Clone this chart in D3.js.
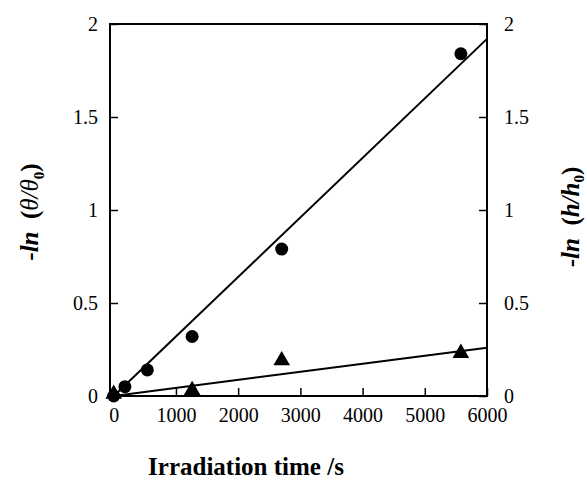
<!DOCTYPE html>
<html>
<head>
<meta charset="utf-8">
<script src="https://cdn.jsdelivr.net/npm/d3@7"></script>
<style>
  body { margin: 0; background: #fff; }
  svg text { font-family: "Liberation Serif", "Times New Roman", serif; fill: #000; }
</style>
</head>
<body>
<div id="graph"></div>
<script>
// data
var timeCircles = [0, 180, 540, 1260, 2700, 5580];
var thetaValues = [0, 0.05, 0.14, 0.32, 0.79, 1.84];
var timeTriangles = [0, 1260, 2700, 5580];
var heightValues = [0, 0.02, 0.18, 0.22];
var fitTime = [0, 6000];
var fitTheta = [0, 1.92];
var fitHeight = [0, 0.26];
var xTicks = [0, 1000, 2000, 3000, 4000, 5000, 6000];
var yTicks = [0, 0.5, 1, 1.5, 2];

var W = 587, H = 491;
var plotL = 110, plotR = 487, plotT = 24, plotB = 396;

var svg = d3.select("#graph").append("svg")
  .attr("width", W)
  .attr("height", H);

var x = d3.scaleLinear().domain([-60, 6000]).range([plotL, plotR]);
var y = d3.scaleLinear().domain([0, 2]).range([plotB, plotT]);

// frame
svg.append("rect")
  .attr("x", plotL).attr("y", plotT)
  .attr("width", plotR - plotL).attr("height", plotB - plotT)
  .attr("fill", "none").attr("stroke", "#000").attr("stroke-width", 2);

// axes, ticks point inward
var gx = svg.append("g")
  .attr("transform", "translate(0," + plotB + ")")
  .call(d3.axisBottom(x).tickValues(xTicks).tickSizeInner(-8).tickSizeOuter(0).tickPadding(12).tickFormat(d3.format("d")));
var gl = svg.append("g")
  .attr("transform", "translate(" + plotL + ",0)")
  .call(d3.axisLeft(y).tickValues(yTicks).tickSizeInner(-8).tickSizeOuter(0).tickPadding(12).tickFormat(d3.format("")));
var gr = svg.append("g")
  .attr("transform", "translate(" + plotR + ",0)")
  .call(d3.axisRight(y).tickValues(yTicks).tickSizeInner(-8).tickSizeOuter(0).tickPadding(17).tickFormat(d3.format("")));

[gx, gl, gr].forEach(function(g) {
  g.select(".domain").remove();
  g.selectAll(".tick line").attr("stroke", "#000").attr("stroke-width", 1.5);
  g.selectAll(".tick text")
    .attr("font-family", "Liberation Serif, serif")
    .attr("font-size", 20)
    .attr("fill", "#000");
});

// fit lines
var line = d3.line()
  .x(function(d) { return x(d[0]); })
  .y(function(d) { return y(d[1]); });
svg.append("path")
  .datum(d3.zip(fitTime, fitTheta))
  .attr("fill", "none").attr("stroke", "#000").attr("stroke-width", 2)
  .attr("d", line);
svg.append("path")
  .datum(d3.zip(fitTime, fitHeight))
  .attr("fill", "none").attr("stroke", "#000").attr("stroke-width", 2)
  .attr("d", line);

// points
svg.selectAll("circle.pt")
  .data(d3.zip(timeCircles, thetaValues))
  .enter().append("circle")
  .attr("class", "pt")
  .attr("cx", function(d) { return x(d[0]); })
  .attr("cy", function(d) { return y(d[1]); })
  .attr("r", 6.5)
  .attr("fill", "#000");

var tri = d3.symbol().type(d3.symbolTriangle).size(120);
svg.selectAll("path.tri")
  .data(d3.zip(timeTriangles, heightValues))
  .enter().append("path")
  .attr("class", "tri")
  .attr("d", tri)
  .attr("transform", function(d) { return "translate(" + x(d[0]) + "," + (y(d[1]) - 2) + ")"; })
  .attr("fill", "#000");

// axis titles
svg.append("text")
  .attr("x", 246).attr("y", 475)
  .attr("text-anchor", "middle")
  .attr("font-size", 25).attr("font-weight", "bold")
  .text("Irradiation time /s");

var yl = svg.append("text")
  .attr("transform", "translate(38,212) rotate(-90)")
  .attr("text-anchor", "middle")
  .attr("font-size", 25).attr("font-weight", "bold");
yl.append("tspan").text("-");
yl.append("tspan").attr("font-style", "italic").text("ln");
yl.append("tspan").text("\u2002(");
yl.append("tspan").attr("font-style", "italic").attr("font-weight", "normal").text("\u03b8/\u03b8");
yl.append("tspan").attr("font-size", 15).attr("dy", 6).text("0");
yl.append("tspan").attr("dy", -6).text(")");

var yr = svg.append("text")
  .attr("transform", "translate(579,217) rotate(-90)")
  .attr("text-anchor", "middle")
  .attr("font-size", 25).attr("font-weight", "bold");
yr.append("tspan").text("-");
yr.append("tspan").attr("font-style", "italic").text("ln");
yr.append("tspan").text("\u2002(");
yr.append("tspan").attr("font-style", "italic").text("h/h");
yr.append("tspan").attr("font-size", 15).attr("dy", 5).text("0");
yr.append("tspan").attr("dy", -5).text(")");
</script>
</body>
</html>
